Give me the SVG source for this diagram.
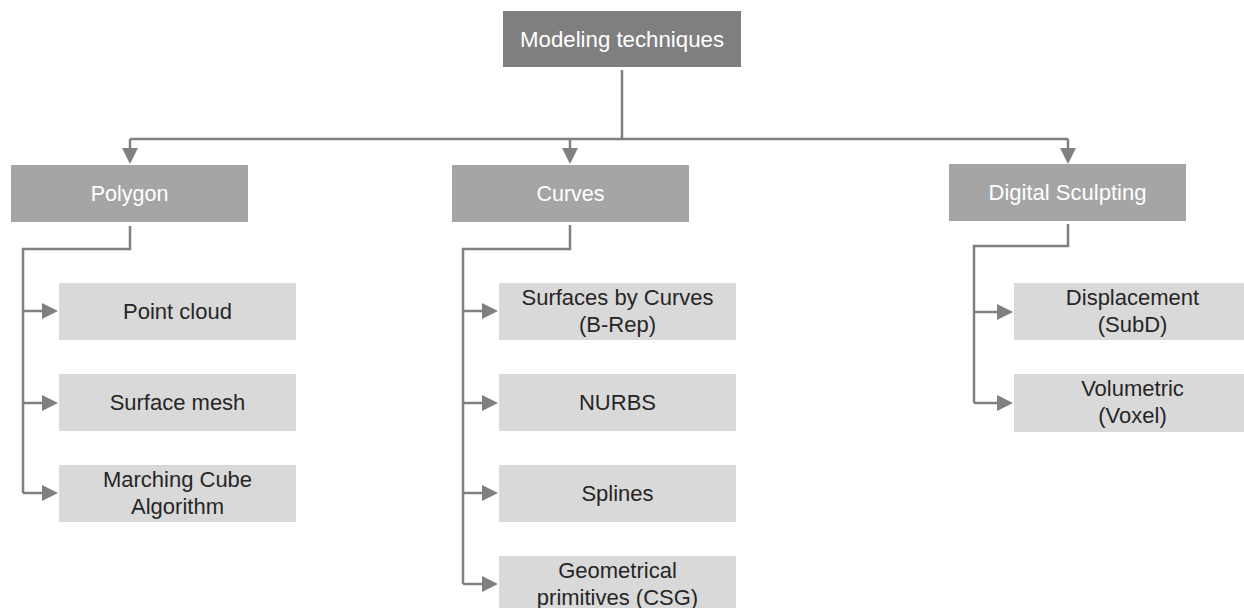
<svg xmlns="http://www.w3.org/2000/svg" width="1244" height="608" viewBox="0 0 1244 608">
  <defs>
    <marker id="arrow" markerUnits="userSpaceOnUse" markerWidth="16" markerHeight="16" refX="0" refY="8" orient="auto" viewBox="0 0 16 16" overflow="visible">
      <path d="M0,0 L16,8 L0,16 z" fill="#808080"/>
    </marker>
    <style>
      .root { fill: #7f7f7f; }
      .cat { fill: #a5a5a5; }
      .leaf { fill: #d9d9d9; }
      .hd { font-family: "Liberation Sans", Arial, sans-serif; font-size: 21.5px; fill: #ffffff; text-anchor: middle; }
      .tx { font-family: "Liberation Sans", Arial, sans-serif; font-size: 22px; fill: #262626; text-anchor: middle; }
      .ln { fill: none; stroke: #808080; stroke-width: 2.5; }
      .ar { fill: none; stroke: #808080; stroke-width: 2.5; marker-end: url(#arrow); }
    </style>
  </defs>
  <rect width="1244" height="608" fill="#ffffff"/>

  <!-- connectors -->
  <g id="connectors">
    <path class="ln" d="M622,70 V139 M130,139 H1068"/>
    <path class="ar" d="M130,139 V148"/>
    <path class="ar" d="M570,139 V148"/>
    <path class="ar" d="M1068,139 V148"/>

    <path class="ln" d="M130,226 V249 H23 V493"/>
    <path class="ar" d="M23,311 H42"/>
    <path class="ar" d="M23,403 H42"/>
    <path class="ar" d="M23,493 H42"/>

    <path class="ln" d="M570,225 V249 H463 V584"/>
    <path class="ar" d="M463,311 H482"/>
    <path class="ar" d="M463,403 H482"/>
    <path class="ar" d="M463,493 H482"/>
    <path class="ar" d="M463,584 H482"/>

    <path class="ln" d="M1068,224 V246 H974 V403"/>
    <path class="ar" d="M974,312 H997"/>
    <path class="ar" d="M974,403 H997"/>
  </g>

  <!-- root -->
  <g id="modeling-techniques">
    <rect class="root" x="503" y="11" width="238" height="56"/>
    <text class="hd" x="622" y="46.5" textLength="204" lengthAdjust="spacingAndGlyphs">Modeling techniques</text>
  </g>

  <!-- categories -->
  <g id="polygon">
    <rect class="cat" x="11" y="165" width="237" height="57"/>
    <text class="hd" x="129.5" y="201">Polygon</text>
  </g>
  <g id="curves">
    <rect class="cat" x="452" y="165" width="237" height="57"/>
    <text class="hd" x="570.5" y="201">Curves</text>
  </g>
  <g id="digital-sculpting">
    <rect class="cat" x="949" y="164" width="237" height="57"/>
    <text class="hd" x="1067.5" y="200" textLength="158" lengthAdjust="spacingAndGlyphs">Digital Sculpting</text>
  </g>

  <!-- polygon techniques -->
  <g id="point-cloud">
    <rect class="leaf" x="59" y="283" width="237" height="57"/>
    <text class="tx" x="177.5" y="319">Point cloud</text>
  </g>
  <g id="surface-mesh">
    <rect class="leaf" x="59" y="374" width="237" height="57"/>
    <text class="tx" x="177.5" y="410">Surface mesh</text>
  </g>
  <g id="marching-cube">
    <rect class="leaf" x="59" y="465" width="237" height="57"/>
    <text class="tx" x="177.5" y="487">Marching Cube</text>
    <text class="tx" x="177.5" y="514">Algorithm</text>
  </g>

  <!-- curve techniques -->
  <g id="surfaces-by-curves">
    <rect class="leaf" x="499" y="283" width="237" height="57"/>
    <text class="tx" x="617.5" y="305">Surfaces by Curves</text>
    <text class="tx" x="617.5" y="332">(B-Rep)</text>
  </g>
  <g id="nurbs">
    <rect class="leaf" x="499" y="374" width="237" height="57"/>
    <text class="tx" x="617.5" y="410">NURBS</text>
  </g>
  <g id="splines">
    <rect class="leaf" x="499" y="465" width="237" height="57"/>
    <text class="tx" x="617.5" y="501">Splines</text>
  </g>
  <g id="geometrical-primitives">
    <rect class="leaf" x="499" y="556" width="237" height="57"/>
    <text class="tx" x="617.5" y="578">Geometrical</text>
    <text class="tx" x="617.5" y="605">primitives (CSG)</text>
  </g>

  <!-- sculpting techniques -->
  <g id="displacement">
    <rect class="leaf" x="1014" y="283" width="237" height="57"/>
    <text class="tx" x="1132.5" y="305">Displacement</text>
    <text class="tx" x="1132.5" y="332">(SubD)</text>
  </g>
  <g id="volumetric">
    <rect class="leaf" x="1014" y="374" width="237" height="58"/>
    <text class="tx" x="1132.5" y="396">Volumetric</text>
    <text class="tx" x="1132.5" y="423">(Voxel)</text>
  </g>
</svg>
